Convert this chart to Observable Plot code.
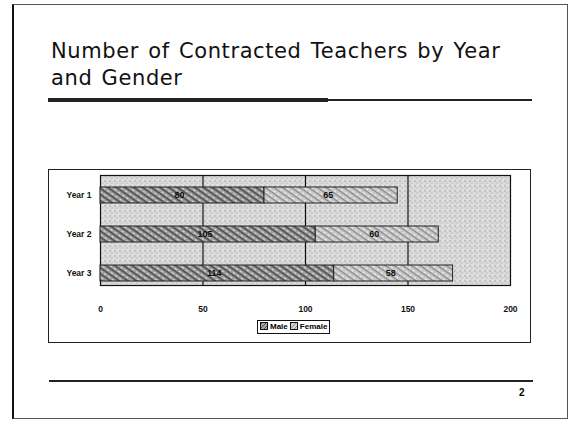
<!DOCTYPE html>
<html>
<head>
<meta charset="utf-8">
<script src="https://cdn.jsdelivr.net/npm/d3@7"></script>
<script src="https://cdn.jsdelivr.net/npm/@observablehq/plot@0.6"></script>
<style>
  html, body { margin: 0; padding: 0; background: #fff; }
  #page { position: relative; width: 570px; height: 421px; overflow: hidden; background: #fff; font-family: "Liberation Sans", Arial, sans-serif; }
  #border { position: absolute; left: 12px; top: 4px; width: 553px; height: 413px; border: 1px solid #555; border-left: 2px solid #111; }
  #title { position: absolute; left: 51px; top: 38px; font-family: "DejaVu Sans", Verdana, sans-serif; font-size: 21px; letter-spacing: 0.6px; word-spacing: 2px; line-height: 27px; color: #111; }
  #ruleThick { position: absolute; left: 48px; top: 98px; width: 280px; height: 4px; background: #222; }
  #ruleThin { position: absolute; left: 328px; top: 99px; width: 204px; height: 2px; background: #222; }
  #chartbox { position: absolute; left: 48px; top: 169px; width: 481px; height: 172px; border: 1px solid #222; }
  #chart { position: absolute; left: 48px; top: 169px; }
  #legend { position: absolute; left: 257px; top: 320px; height: 12px; border: 1px solid #111; padding: 0 2px; font-size: 8px; font-weight: bold; line-height: 12px; white-space: nowrap; background: #fff; }
  .sw { display: inline-block; width: 6px; height: 6px; border: 1px solid #111; vertical-align: -1px; margin-right: 2px; }
  #bottomRule { position: absolute; left: 49px; top: 380px; width: 484px; height: 2px; background: #222; }
  #pagenum { position: absolute; left: 519px; top: 387px; font-size: 10px; font-weight: bold; }
</style>
</head>
<body>
<div id="page">
  <div id="border"></div>
  <div id="title">Number of Contracted Teachers by Year<br>and Gender</div>
  <div id="ruleThick"></div>
  <div id="ruleThin"></div>
  <div id="chartbox"></div>
  <div id="chart"></div>
  <div id="legend"></div>
  <div id="bottomRule"></div>
  <div id="pagenum">2</div>
</div>
<script>
const years = ["Year 1", "Year 2", "Year 3"];
const genders = ["Male", "Female"];
const maleValues = [80, 105, 114];
const femaleValues = [65, 60, 58];
const xTicks = [0, 50, 100, 150, 200];
const gridValues = [50, 100, 150];

const rows = [];
years.forEach((y, i) => {
  rows.push({year: y, gender: "Male", value: maleValues[i]});
  rows.push({year: y, gender: "Female", value: femaleValues[i]});
});

const patternFills = ["url(#malePat)", "url(#femalePat)"];

const chart = Plot.plot({
  width: 482,
  height: 173,
  marginLeft: 52,
  marginRight: 20,
  marginTop: 6,
  marginBottom: 50,
  style: {fontFamily: "Liberation Sans, Arial, sans-serif", fontSize: "8.5px", fontWeight: "bold", background: "transparent", color: "#111"},
  x: {domain: [0, 200], ticks: xTicks, label: null},
  y: {domain: years, label: null, paddingInner: 0.6, paddingOuter: 0.3},
  color: {domain: genders, range: patternFills},
  marks: [
    Plot.frame({fill: "url(#bgPat)", stroke: "none", insetBottom: 7}),
    Plot.ruleX(gridValues, {stroke: "#111", strokeWidth: 1.2, insetBottom: 7}),
    Plot.frame({stroke: "#111", strokeWidth: 1.2, insetBottom: 7}),
    Plot.barX(rows, Plot.stackX({x: "value", y: "year", z: "gender", fill: "gender", stroke: "#222", strokeWidth: 1, order: genders})),
    Plot.text(rows, Plot.stackX({x: "value", y: "year", z: "gender", text: d => String(d.value), order: genders, dx: -3, fontSize: 9, fontWeight: "bold", fill: "#111"})),
    Plot.axisX({ticks: xTicks, tickSize: 0, tickPadding: 13, tickFormat: d => String(d), fontSize: 8.5}),
    Plot.axisY({tickSize: 0, tickPadding: 9, fontSize: 8.5})
  ]
});

// patterns to mimic the scanned hatching
const ns = "http://www.w3.org/2000/svg";
const defs = document.createElementNS(ns, "defs");
defs.innerHTML = `
  <pattern id="bgPat" width="5" height="5" patternUnits="userSpaceOnUse">
    <rect width="5" height="5" fill="#dadada"/>
    <rect x="1" y="1" width="1" height="1" fill="#7a7a7a"/>
    <rect x="3" y="3" width="1" height="1" fill="#a0a0a0"/>
    <rect x="4" y="0" width="1" height="1" fill="#f6f6f6"/>
  </pattern>
  <pattern id="malePat" width="5" height="5" patternUnits="userSpaceOnUse" patternTransform="rotate(35)">
    <rect width="5" height="5" fill="#a0a0a0"/>
    <rect width="5" height="1.6" fill="#4a4a4a"/>
    <rect x="1" y="3" width="2" height="1" fill="#e0e0e0"/>
  </pattern>
  <pattern id="femalePat" width="5" height="5" patternUnits="userSpaceOnUse" patternTransform="rotate(35)">
    <rect width="5" height="5" fill="#cacaca"/>
    <rect width="5" height="1.2" fill="#858585"/>
    <rect x="2" y="3" width="2" height="1" fill="#f2f2f2"/>
  </pattern>`;
chart.insertBefore(defs, chart.firstChild);
document.getElementById("chart").appendChild(chart);

// legend
const legend = document.getElementById("legend");
const swatchBg = {
  Male: "repeating-linear-gradient(135deg, #555 0 1px, #a4a4a4 1px 3px)",
  Female: "repeating-linear-gradient(135deg, #8d8d8d 0 1px, #d4d4d4 1px 3px)"
};
legend.innerHTML = genders.map((g, i) =>
  `<span class="sw" style="background:${swatchBg[g]}"></span><span${i === 0 ? ' style="margin-right:2px"' : ''}>${g}</span>`
).join("");
</script>
</body>
</html>
